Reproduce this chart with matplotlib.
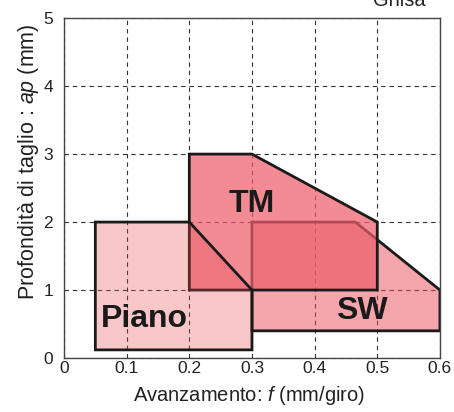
import matplotlib
matplotlib.use("Agg")
import matplotlib.pyplot as plt
from matplotlib.patches import Polygon

plt.rcParams['font.family'] = ['Liberation Sans', 'DejaVu Sans']
plt.rcParams['mathtext.fontset'] = 'custom'
plt.rcParams['mathtext.it'] = 'Liberation Sans:italic'
plt.rcParams['mathtext.rm'] = 'Liberation Sans'

# regioni di lavoro (avanzamento f, profondita ap)
sw_f = [0.3, 0.3, 0.465, 0.6, 0.6]
sw_ap = [0.4, 2.0, 2.0, 1.0, 0.4]
tm_f = [0.2, 0.3, 0.5, 0.5, 0.2]
tm_ap = [3.0, 3.0, 2.0, 1.0, 1.0]
piano_f = [0.05, 0.05, 0.2, 0.3, 0.3]
piano_ap = [0.12, 2.0, 2.0, 1.0, 0.12]

labels = ['SW', 'TM', 'Piano']
label_pos = [(0.475, 0.69), (0.3, 2.26), (0.1275, 0.57)]
xticks = [0, 0.1, 0.2, 0.3, 0.4, 0.5, 0.6]
yticks = [0, 1, 2, 3, 4, 5]

fig = plt.figure(figsize=(4.54, 4.12), dpi=100)
ax = fig.add_axes([0.141, 0.131, 0.828, 0.825])

shapes = [(sw_f, sw_ap, (233/255, 77/255, 89/255), 0.5),
          (tm_f, tm_ap, (237/255, 95/255, 106/255), 0.72),
          (piano_f, piano_ap, (232/255, 72/255, 78/255), 0.3)]
z = 2
for f, ap, col, a in shapes:
    pts = list(zip(f, ap))
    ax.add_patch(Polygon(pts, closed=True, facecolor=col + (a,), edgecolor='none', zorder=z))
    ax.add_patch(Polygon(pts, closed=True, facecolor='none', edgecolor='#1a1a1a', lw=2.0,
                         joinstyle='miter', zorder=z + 0.5))
    z += 1

for lab, (x, y) in zip(labels, label_pos):
    ax.text(x, y, lab, fontsize=23, fontweight='bold', ha='center', va='center',
            color='#1a1a1a', zorder=10)

ax.set_xlim(0, 0.6)
ax.set_ylim(0, 5)
ax.set_xticks(xticks)
ax.set_xticklabels(['0', '0.1', '0.2', '0.3', '0.4', '0.5', '0.6'])
ax.set_yticks(yticks)
ax.tick_params(length=0, labelsize=12.5, colors='#222222')
ax.tick_params(axis='y', pad=8)
ax.tick_params(axis='x', pad=2)
ax.grid(True, linestyle=(0, (4, 3.5)), color='#333333', lw=0.8, zorder=1)
ax.set_axisbelow(True)
for s in ax.spines.values():
    s.set_color('#444444')
    s.set_linewidth(1.0)

ax.set_xlabel('Avanzamento: $f$ (mm/giro)', fontsize=14.5, color='#222222')
ax.xaxis.set_label_coords(0.492, -0.109)
ax.xaxis.label.set_va('center')
ax.set_ylabel('Profondità di taglio : $ap$ (mm)', fontsize=15.5, color='#222222')
ax.yaxis.set_label_coords(-0.094, 0.578)
ax.yaxis.label.set_va('center')
fig.text(0.88, 1 - 6 / 412, 'Ghisa', fontsize=14.5, ha='center', va='baseline', color='#222222')

fig.savefig('out.png', dpi=100)
